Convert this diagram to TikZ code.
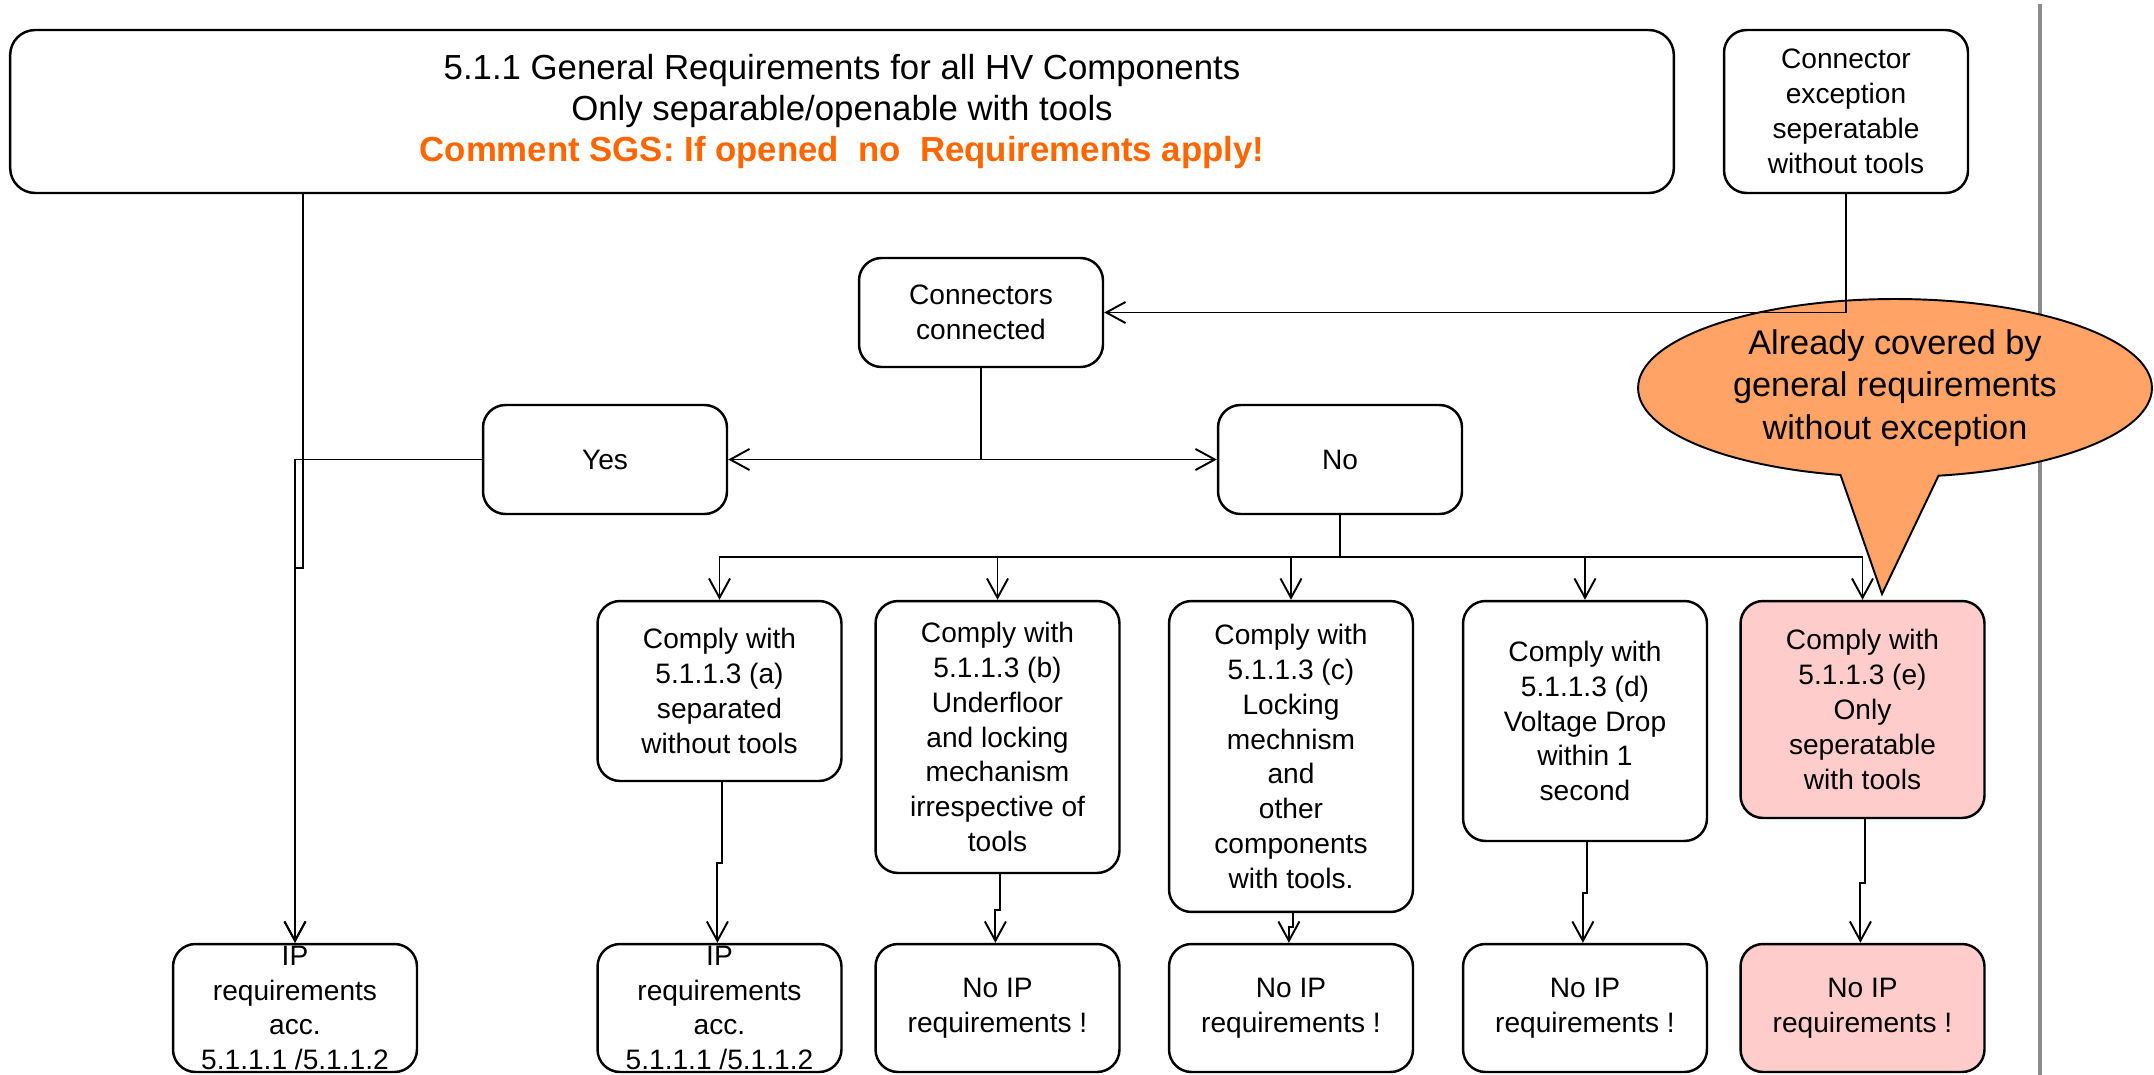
\documentclass[tikz,border=0pt]{standalone}
\usepackage{fontspec}
\setmainfont{Liberation Sans}
\usepackage{tikz}
\usetikzlibrary{arrows.meta}
\usetikzlibrary{shapes.callouts}
\definecolor{sgsorange}{RGB}{255,102,0}
\definecolor{coverfill}{RGB}{255,163,102}
\definecolor{pinkfill}{RGB}{255,204,204}
\definecolor{rulegray}{RGB}{140,140,140}
\tikzset{
    stepbox/.style={draw=black, line width=1.4pt, rounded corners=0.45cm, align=center,
        inner sep=0pt, minimum width=4.88cm, font=\fontsize{16}{19.8}\selectfont},
    pinkbox/.style={stepbox, fill=pinkfill},
    flow/.style={draw=black, line width=1.1pt, -{Straight Barb[length=11pt,width=12pt]}},
    flowboth/.style={draw=black, line width=1.1pt,
        {Straight Barb[length=11pt,width=12pt]}-{Straight Barb[length=11pt,width=12pt]}},
    plain/.style={draw=black, line width=1.1pt},
    cover/.style={ellipse callout, draw=black, line width=1.1pt, fill=coverfill, align=center,
        inner sep=0pt, font=\fontsize{19.5}{24.2}\selectfont},
}
\begin{document}
\begin{tikzpicture}[x=0.02cm, y=-0.02cm]
	\useasboundingbox (0,0) rectangle (2154,1075);
	\draw[line width=2.3pt, rulegray] (2040,4) -- (2040,1075);
	% top row
	\node[stepbox, minimum width=33.28cm, minimum height=3.26cm, rounded corners=0.5cm,
		font=\fontsize{19.8}{23.3}\selectfont] (top) at (842,111.5)
		{5.1.1 General Requirements for all HV Components\\Only separable/openable with tools\\
		\textcolor{sgsorange}{\bfseries Comment SGS: If opened\ \ no\ \ Requirements apply!}};
	\node[stepbox, minimum height=3.26cm] (conex) at (1846,111.5)
		{Connector\\exception\\seperatable\\without tools};
	\node[stepbox, minimum height=2.18cm] (conn) at (981,312.5) {Connectors\\connected};
	\node[stepbox, minimum height=2.18cm] (yes) at (605,459.5) {Yes};
	\node[stepbox, minimum height=2.18cm] (no) at (1340,459.5) {No};
	\node[cover, minimum width=10.28cm, minimum height=3.56cm,
		callout absolute pointer={(1882,594)}, callout pointer arc=22] (covered) at (1895,388)
		{Already covered by\\general requirements\\without exception};
	% comply boxes
	\node[stepbox, minimum height=3.6cm] (ca) at (719.5,691)
		{Comply with\\5.1.1.3 (a)\\separated\\without tools};
	\node[stepbox, minimum height=5.44cm] (cb) at (997.5,737)
		{Comply with\\5.1.1.3 (b)\\Underfloor\\and locking\\mechanism\\irrespective of\\tools};
	\node[stepbox, minimum height=6.22cm] (cc) at (1291,756.5)
		{Comply with\\5.1.1.3 (c)\\Locking\\mechnism\\and\\other\\components\\with tools.};
	\node[stepbox, minimum height=4.8cm] (cd) at (1585,721)
		{Comply with\\5.1.1.3 (d)\\Voltage Drop\\within 1\\second};
	\node[pinkbox, minimum height=4.34cm] (ce) at (1862.5,709.5)
		{Comply with\\5.1.1.3 (e)\\Only\\seperatable\\with tools};
	% results
	\node[stepbox, minimum height=2.56cm] (ip0) at (295,1008)
		{IP\\requirements\\acc.\\5.1.1.1 /5.1.1.2};
	\node[stepbox, minimum height=2.56cm] (ipa) at (719.5,1008)
		{IP\\requirements\\acc.\\5.1.1.1 /5.1.1.2};
	\node[stepbox, minimum height=2.56cm] (nb) at (997.5,1008) {No IP\\requirements !};
	\node[stepbox, minimum height=2.56cm] (nc) at (1291,1008) {No IP\\requirements !};
	\node[stepbox, minimum height=2.56cm] (nd) at (1585,1008) {No IP\\requirements !};
	\node[pinkbox, minimum height=2.56cm] (ne) at (1862.5,1008) {No IP\\requirements !};
	\coordinate (kink) at (303,568);
	\coordinate (bus) at (1340,557);
	% connectors
	\draw[flow] (top.south -| kink) -- (kink) -- (kink -| ip0) -- (ip0);
	\draw[flow] (yes) -| (ip0);
	\draw[flow] (conex) |- (conn);
	\draw[plain] (conn) -- (conn |- yes);
	\draw[flowboth] (yes) -- (no);
	\foreach \n in {ca,cb,cc,cd,ce}
		\draw[flow] (no) -- (bus) -| (\n);
	\foreach \u/\v/\y in {ca/ipa/863,cb/nb/910,cc/nc/927,cd/nd/893,ce/ne/883}
		\draw[flow] ([xshift=1.2pt]\u.south) |- ([xshift=-1.2pt]\u.south |- 0,\y)
			-- ([xshift=-1.2pt]\v.north);
\end{tikzpicture}
\end{document}
